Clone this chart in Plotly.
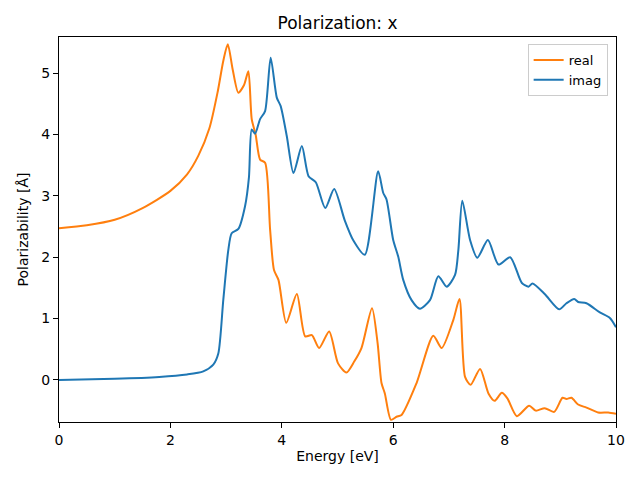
import plotly.graph_objects as go

real_x = [0.0, 0.5, 1.0, 1.5, 2.0, 2.3, 2.5, 2.7, 2.85, 2.95, 3.03, 3.12, 3.22, 3.32, 3.40, 3.46, 3.53, 3.61, 3.70, 3.79, 3.86, 3.94, 4.08, 4.27, 4.42, 4.54, 4.67, 4.85, 5.01, 5.16, 5.30, 5.43, 5.62, 5.72, 5.79, 5.85, 5.96, 6.06, 6.15, 6.42, 6.72, 6.87, 7.08, 7.19, 7.29, 7.39, 7.56, 7.71, 7.82, 7.95, 8.05, 8.22, 8.44, 8.56, 8.72, 8.89, 9.04, 9.11, 9.20, 9.32, 9.47, 9.68, 9.86, 10.0]
real_y = [2.47, 2.52, 2.61, 2.80, 3.08, 3.35, 3.65, 4.10, 4.70, 5.20, 5.47, 5.05, 4.68, 4.80, 5.03, 4.25, 4.00, 3.59, 3.54, 2.45, 1.79, 1.63, 0.93, 1.40, 0.71, 0.73, 0.52, 0.79, 0.27, 0.12, 0.30, 0.52, 1.17, 0.60, -0.05, -0.22, -0.65, -0.60, -0.57, -0.05, 0.72, 0.52, 0.98, 1.32, 0.05, -0.08, 0.18, -0.22, -0.34, -0.21, -0.30, -0.59, -0.42, -0.50, -0.46, -0.52, -0.29, -0.31, -0.29, -0.40, -0.45, -0.53, -0.53, -0.55]

imag_x = [0.0, 1.0, 1.8, 2.3, 2.59, 2.77, 2.86, 2.95, 3.04, 3.10, 3.22, 3.34, 3.41, 3.46, 3.52, 3.61, 3.70, 3.80, 3.91, 3.98, 4.09, 4.21, 4.36, 4.48, 4.61, 4.78, 4.94, 5.13, 5.28, 5.49, 5.73, 5.82, 5.88, 6.00, 6.09, 6.18, 6.33, 6.48, 6.66, 6.81, 6.96, 7.11, 7.17, 7.24, 7.38, 7.51, 7.70, 7.89, 8.10, 8.31, 8.43, 8.50, 8.72, 8.98, 9.11, 9.25, 9.32, 9.47, 9.71, 9.89, 10.0]
imag_y = [0.00, 0.02, 0.05, 0.09, 0.14, 0.25, 0.43, 1.31, 2.12, 2.39, 2.46, 2.83, 3.30, 4.08, 4.01, 4.25, 4.38, 5.25, 4.60, 4.46, 3.97, 3.37, 3.81, 3.32, 3.22, 2.80, 3.11, 2.60, 2.28, 2.04, 3.40, 3.05, 2.94, 2.28, 2.01, 1.63, 1.30, 1.16, 1.30, 1.69, 1.52, 1.71, 2.12, 2.92, 2.28, 1.99, 2.28, 1.88, 2.00, 1.58, 1.52, 1.57, 1.40, 1.15, 1.25, 1.32, 1.27, 1.25, 1.10, 1.01, 0.86]

x_ticks = [0, 2, 4, 6, 8, 10]
y_ticks = [0, 1, 2, 3, 4, 5]

fig = go.Figure()
fig.add_trace(go.Scatter(x=real_x, y=real_y, mode="lines", name="real",
                         line=dict(color="#ff7f0e", width=2, shape="spline", smoothing=0.7)))
fig.add_trace(go.Scatter(x=imag_x, y=imag_y, mode="lines", name="imag",
                         line=dict(color="#1f77b4", width=2, shape="spline", smoothing=0.7)))

axis_common = dict(showline=True, linecolor="black", linewidth=1, mirror=True,
                   ticks="outside", ticklen=5, tickwidth=1, tickcolor="black",
                   showgrid=False, zeroline=False, automargin=False,
                   tickfont=dict(family="DejaVu Sans", size=14, color="black"))

# page body has an 8px margin; compensate so the plot area lands at 59..616 x 37..422
fig.update_layout(
    width=640, height=480,
    paper_bgcolor="white", plot_bgcolor="white",
    margin=dict(l=51, r=32, t=29, b=66),
    title=dict(text="Polarization: x", x=0.5, xref="paper", xanchor="center", y=0.969, yanchor="middle",
               font=dict(family="DejaVu Sans", size=17, color="black")),
    font=dict(family="DejaVu Sans", size=14, color="black"),
    xaxis=dict(range=[0, 10], tickvals=x_ticks,
               title=dict(text="Energy [eV]", font=dict(size=14), standoff=4), **axis_common),
    yaxis=dict(range=[-0.685, 5.587], tickvals=y_ticks,
               title=dict(text="Polarizability [Å]", font=dict(size=14), standoff=9), **axis_common),
    legend=dict(x=0.985, y=0.982, xanchor="right", yanchor="top",
                bgcolor="rgba(255,255,255,0.8)", bordercolor="#cccccc", borderwidth=1,
                font=dict(size=13), tracegroupgap=0),
    showlegend=True,
)

fig.write_html("out.html")
